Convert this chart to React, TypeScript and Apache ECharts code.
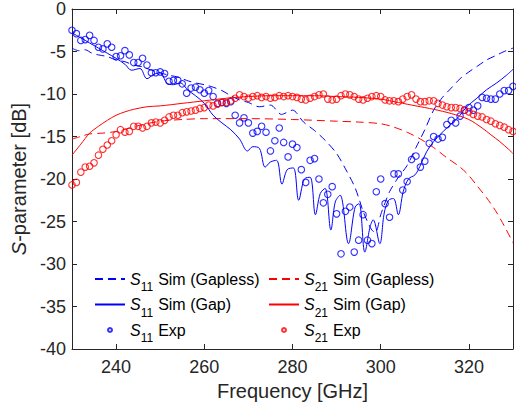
import React, { useEffect, useRef } from 'react';
import * as echarts from 'echarts';

const FONT = '"Liberation Sans", Arial, Helvetica, sans-serif';
const BLUE = '#0000ff';
const RED = '#ff0000';
const AXIS = '#262626';

// Tick labels
const xTickValues = [240, 260, 280, 300, 320];

// Measured (Exp) frequencies, GHz
const expFreq = [
  230, 231, 232, 233, 234, 235, 236, 237, 238, 239,
  240, 241, 242, 243, 244, 245, 246, 247, 248, 249,
  250, 251, 252, 253, 254, 255, 256, 257, 258, 259,
  260, 261, 262, 263, 264, 265, 266, 267, 268, 269,
  270, 271, 272, 273, 274, 275, 276, 277, 278, 279,
  280, 281, 282, 283, 284, 285, 286, 287, 288, 289,
  290, 291, 292, 293, 294, 295, 296, 297, 298, 299,
  300, 301, 302, 303, 304, 305, 306, 307, 308, 309,
  310, 311, 312, 313, 314, 315, 316, 317, 318, 319,
  320, 321, 322, 323, 324, 325, 326, 327, 328, 329, 330,
];

// S11 Exp, dB
const s11Exp = [
  -2.5, -2.9, -3.7, -3.6, -3.1, -3.7, -4.5, -4.7, -4.1, -4.5,
  -5.6, -5.5, -4.9, -5.4, -6.3, -6.3, -5.8, -6.6, -7.5, -7.5,
  -7.4, -7.6, -8.5, -8.4, -8.4, -8.8, -9.9, -9.3, -9.2, -9.5,
  -9.9, -9.6, -10.3, -11.1, -11.0, -11.1, -10.9, -12.5, -13.4, -12.8,
  -13.4, -14.6, -14.4, -13.8, -14.5, -16.7, -15.5, -14.0, -15.7, -17.4,
  -15.9, -16.3, -18.9, -20.4, -17.8, -17.6, -20.0, -22.8, -21.8, -20.9,
  -24.1, -28.8, -23.8, -23.3, -28.6, -27.2, -24.2, -27.2, -27.6, -21.5,
  -20.0, -22.9, -24.5, -19.4, -19.4, -21.3, -20.3, -17.7, -17.3, -18.6,
  -17.9, -15.8, -15.0, -15.3, -15.1, -13.6, -13.1, -13.4, -12.6, -11.9,
  -11.6, -11.9, -11.4, -10.4, -10.5, -10.6, -10.6, -10.0, -9.6, -9.6, -9.1,
];

// S21 Exp, dB
const s21Exp = [
  -20.7, -20.4, -19.2, -18.6, -18.5, -18.1, -17.2, -16.5, -16.0, -15.5,
  -14.8, -14.2, -14.5, -14.4, -13.8, -13.8, -14.0, -13.8, -13.4, -13.3,
  -13.4, -13.1, -12.7, -12.5, -12.5, -12.2, -12.1, -12.0, -11.9, -11.7,
  -11.6, -11.3, -11.4, -11.2, -11.0, -11.0, -10.8, -10.5, -10.1, -10.3,
  -10.5, -10.3, -10.2, -10.4, -10.3, -10.5, -10.4, -10.2, -10.3, -10.2,
  -10.3, -10.4, -10.6, -10.7, -10.5, -10.3, -10.1, -10.0, -10.6, -10.7,
  -10.6, -10.2, -10.0, -10.1, -10.3, -10.6, -10.7, -10.5, -10.3, -10.2,
  -10.3, -10.7, -10.8, -10.8, -10.9, -10.6, -10.3, -10.1, -10.6, -10.9,
  -10.9, -10.8, -10.8, -11.1, -11.3, -11.5, -11.6, -11.6, -11.7, -11.9,
  -12.1, -12.4, -12.6, -12.7, -13.0, -13.2, -13.5, -13.7, -13.9, -14.2, -14.4,
];

// S11 Sim (Gapless)
const s11GaplessFreq = [
  230, 231.5, 233, 234.5, 236, 238, 240, 242, 244, 246, 248, 250, 252, 254, 256, 258,
  260, 262, 264, 266, 268, 270, 272.5, 275, 277.5, 280, 282.5, 285, 287.5, 290, 292,
  294, 295, 296, 297, 298, 298.8, 300, 301, 302, 304, 306, 308, 310, 312, 314, 316,
  318, 320, 322, 324, 326, 328, 330,
];
const s11GaplessVal = [
  -4.6, -4.9, -4.8, -5.2, -5.4, -5.6, -6.0, -6.2, -6.6, -6.8, -7.2, -7.5, -7.8, -8.0, -8.4, -8.7,
  -8.9, -9.2, -9.6, -10.2, -10.7, -11.0, -11.5, -11.3, -12.4, -11.9, -13.3, -14.3, -15.5, -17.0, -18.8,
  -20.8, -22.2, -23.8, -25.0, -26.0, -26.3, -24.2, -22.8, -21.5, -19.8, -18.4, -16.3, -14.2, -11.9, -10.4, -9.3,
  -8.2, -7.4, -6.7, -6.0, -5.5, -5.0, -4.6,
];

// S11 Sim (Gap)
const s11GapFreq = [
  230, 232, 234, 236, 238, 240, 242, 243.5, 245.4, 247, 248.5, 250, 251.5, 253, 254.5, 256.4,
  258, 260, 262, 264, 266, 268, 269.8, 271, 272.5, 273.8, 275, 276.4, 277.6, 278.8, 280.2,
  281.4, 282.7, 284, 285.2, 286.3, 287.4, 288.7, 289.7, 290.8, 292.7, 294.2, 295.1, 296.4,
  297.6, 298.3, 299.8, 300.8, 301.8, 302.9, 304, 305.1, 306.3, 307.8, 308.9, 310.4, 312,
  313.4, 315, 316.5, 318, 319.5, 321.8, 324, 326.3, 328.5, 330,
];
const s11GapVal = [
  -2.8, -3.4, -4.0, -4.6, -5.2, -5.8, -6.5, -7.2, -7.0, -8.2, -7.7, -7.5, -8.7, -8.9, -8.7, -9.6,
  -10.2, -11.1, -12.5, -13.4, -14.2, -15.3, -16.7, -16.2, -16.4, -18.6, -18.0, -17.8, -20.6, -18.9, -18.7,
  -22.5, -20.0, -19.8, -24.2, -21.7, -21.1, -26.0, -22.7, -21.9, -27.6, -23.3, -22.9, -28.6,
  -25.6, -24.8, -27.6, -24.0, -22.5, -22.3, -24.2, -21.5, -20.0, -19.5, -18.5, -16.8, -15.6,
  -14.8, -14.0, -13.3, -12.5, -11.5, -10.5, -9.5, -8.7, -7.8, -7.1,
];

// S21 Sim (Gapless)
const s21GaplessFreq = [
  230, 232, 234, 237, 240, 243, 246, 250, 255, 260, 270, 280, 290, 295, 300, 303, 306,
  309, 312, 315, 318, 320, 322, 324, 326, 328, 330,
];
const s21GaplessVal = [
  -15.3, -15.0, -14.7, -14.6, -14.4, -14.0, -13.6, -13.2, -13.0, -12.9, -12.9, -13.0, -13.2, -13.3, -13.5, -13.9, -14.5,
  -15.3, -16.3, -17.5, -18.6, -19.6, -20.9, -22.2, -23.7, -25.5, -27.5,
];

// S21 Sim (Gap)
const s21GapFreq = [
  230, 232, 234, 236, 238, 240, 242, 244, 247, 250, 255, 260, 265, 270, 275, 280, 285,
  290, 295, 300, 304, 308, 312, 316, 320, 323, 325, 327, 329, 330,
];
const s21GapVal = [
  -17.2, -15.9, -14.6, -13.8, -13.1, -12.5, -12.1, -11.8, -11.5, -11.4, -11.1, -10.8, -10.5, -10.3, -10.2, -10.2, -10.2,
  -10.3, -10.4, -10.6, -11.0, -11.4, -11.8, -12.3, -13.0, -14.0, -14.8, -15.6, -16.5, -17.0,
];

const zip = (f: number[], v: number[]) => f.map((x, i) => [x, v[i]]);

const N_S11_GAPLESS = 'S11 Sim (Gapless)';
const N_S11_GAP = 'S11 Sim (Gap)';
const N_S11_EXP = 'S11 Exp';
const N_S21_GAPLESS = 'S21 Sim (Gapless)';
const N_S21_GAP = 'S21 Sim (Gap)';
const N_S21_EXP = 'S21 Exp';

const legendRich = {
  i: { fontFamily: FONT, fontStyle: 'italic', fontSize: 16, color: '#000', lineHeight: 20 },
  sub: { fontFamily: FONT, fontSize: 12, color: '#000', lineHeight: 20, padding: [16, 0, 0, 0] },
  n: { fontFamily: FONT, fontSize: 16, color: '#000', lineHeight: 20, padding: [0, 0, 0, 5] },
};

const legendFormatter = (name: string) =>
  `{i|S}{sub|${name.slice(1, 3)}}{n|${name.slice(4)}}`;

const dash = [8, 5];

const hiddenSymbol = { color: 'transparent', borderColor: 'transparent', borderWidth: 0 };

export default function App() {
  const ref = useRef<HTMLDivElement>(null);

  useEffect(() => {
    if (!ref.current) return;
    const chart = echarts.init(ref.current, null, { renderer: 'svg' });

    const lineSeries = (name: string, data: number[][], color: string, dashed: boolean, smooth: number | boolean) => ({
      name,
      type: 'line',
      data,
      symbol: 'none',
      smooth,
      clip: true,
      lineStyle: { color, width: 1, type: dashed ? dash : 'solid' },
      itemStyle: { color },
      emphasis: { disabled: true },
    });

    const scatterSeries = (name: string, data: number[][], color: string) => ({
      name,
      type: 'scatter',
      data,
      symbol: 'circle',
      symbolSize: 6.5,
      clip: true,
      itemStyle: { color: 'transparent', borderColor: color, borderWidth: 1.1 },
      emphasis: { disabled: true },
    });

    const legendBase = {
      orient: 'vertical',
      top: 265,
      padding: 0,
      itemWidth: 30,
      itemHeight: 4,
      itemGap: -2.5,
      selectedMode: false,
      formatter: legendFormatter,
      textStyle: { fontFamily: FONT, fontSize: 16, color: '#000', rich: legendRich },
    };

    chart.setOption({
      animation: false,
      backgroundColor: '#ffffff',
      textStyle: { fontFamily: FONT },
      grid: { left: 72, right: 3, top: 9, bottom: 58, containLabel: false },
      legend: [
        {
          ...legendBase,
          left: 94,
          data: [
            { name: N_S11_GAPLESS, itemStyle: hiddenSymbol },
            { name: N_S11_GAP, itemStyle: hiddenSymbol },
            { name: N_S11_EXP },
          ],
        },
        {
          ...legendBase,
          left: 268,
          data: [
            { name: N_S21_GAPLESS, itemStyle: hiddenSymbol },
            { name: N_S21_GAP, itemStyle: hiddenSymbol },
            { name: N_S21_EXP },
          ],
        },
      ],
      xAxis: [
        {
          type: 'value',
          position: 'bottom',
          min: 230,
          max: 330,
          name: 'Frequency [GHz]',
          nameLocation: 'middle',
          nameGap: 32,
          nameTextStyle: { fontFamily: FONT, fontSize: 20, color: AXIS },
          axisLine: { show: true, onZero: false, lineStyle: { color: AXIS, width: 1 } },
          axisTick: { show: true, inside: true, length: 5, customValues: xTickValues, lineStyle: { color: AXIS } },
          axisLabel: { show: true, customValues: xTickValues, fontFamily: FONT, fontSize: 18, color: AXIS, margin: 9 },
          splitLine: { show: false },
        },
        {
          type: 'value',
          position: 'top',
          min: 230,
          max: 330,
          axisLine: { show: true, onZero: false, lineStyle: { color: AXIS, width: 1 } },
          axisTick: { show: true, inside: true, length: 5, customValues: xTickValues, lineStyle: { color: AXIS } },
          axisLabel: { show: false },
          splitLine: { show: false },
        },
      ],
      yAxis: [
        {
          type: 'value',
          position: 'left',
          min: -40,
          max: 0,
          interval: 5,
          name: '{i|S}-parameter [dB]',
          nameLocation: 'middle',
          nameGap: 31,
          nameRotate: 90,
          nameTextStyle: {
            fontFamily: FONT,
            fontSize: 20,
            color: AXIS,
            rich: { i: { fontFamily: FONT, fontSize: 20, fontStyle: 'italic', color: AXIS } },
          },
          axisLine: { show: true, onZero: false, lineStyle: { color: AXIS, width: 1 } },
          axisTick: { show: true, inside: true, length: 5, lineStyle: { color: AXIS } },
          axisLabel: { show: true, fontFamily: FONT, fontSize: 18, color: AXIS, margin: 6 },
          splitLine: { show: false },
        },
        {
          type: 'value',
          position: 'right',
          min: -40,
          max: 0,
          interval: 5,
          axisLine: { show: true, onZero: false, lineStyle: { color: AXIS, width: 1 } },
          axisTick: { show: true, inside: true, length: 5, lineStyle: { color: AXIS } },
          axisLabel: { show: false },
          splitLine: { show: false },
        },
      ],
      series: [
        lineSeries(N_S11_GAPLESS, zip(s11GaplessFreq, s11GaplessVal), BLUE, true, 0.3),
        lineSeries(N_S21_GAPLESS, zip(s21GaplessFreq, s21GaplessVal), RED, true, 0.3),
        lineSeries(N_S11_GAP, zip(s11GapFreq, s11GapVal), BLUE, false, 0.35),
        lineSeries(N_S21_GAP, zip(s21GapFreq, s21GapVal), RED, false, 0.3),
        scatterSeries(N_S11_EXP, zip(expFreq, s11Exp), BLUE),
        scatterSeries(N_S21_EXP, zip(expFreq, s21Exp), RED),
      ],
    });

    return () => chart.dispose();
  }, []);

  return (
    <div
      ref={ref}
      style={{ position: 'absolute', left: 0, top: 0, width: 516, height: 407, background: '#fff' }}
    />
  );
}
